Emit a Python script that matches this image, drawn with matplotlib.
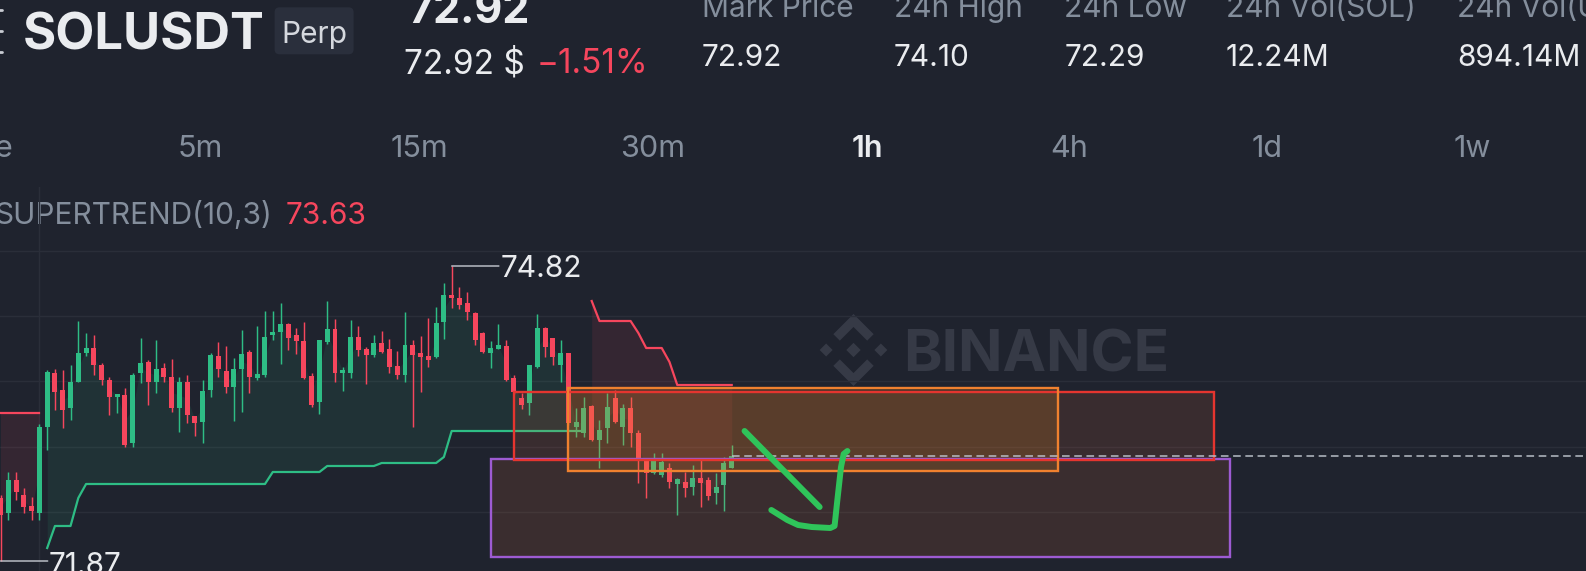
import matplotlib
matplotlib.use("Agg")
import matplotlib.pyplot as plt
from matplotlib.patches import Rectangle, FancyBboxPatch, Polygon

plt.rcParams['font.family'] = ['Inter', 'DejaVu Sans']

# ---------------- data ----------------
symbol = 'SOLUSDT'
contract = 'Perp'
last_price = '72.92'
last_price_usd = '72.92 $'
change_pct = '\u22121.51%'
stats_labels = ['Mark Price', '24h High', '24h Low', '24h Vol(SOL)', '24h Vol(USDT)']
stats_values = ['72.92', '74.10', '72.29', '12.24M', '894.14M']
intervals = ['Time', '5m', '15m', '30m', '1h', '4h', '1d', '1w']
active_interval = '1h'
indicator_name = 'SUPERTREND(10,3)'
indicator_value = '73.63'

opens = [72.50, 72.35, 72.68, 72.53, 72.42, 72.35, 73.21, 73.75, 73.58, 73.40,
         73.66, 73.95, 74.00, 73.83, 73.68, 73.51, 73.53, 73.05, 73.75, 73.86,
         73.66, 73.80, 73.71, 73.40, 73.66, 73.32, 73.26, 73.58, 73.92, 73.77,
         73.61, 73.79, 73.96, 73.70, 73.73, 74.13, 74.16, 74.24, 74.13, 74.07,
         73.72, 73.46, 74.06, 74.19, 73.75, 73.75, 74.11, 73.99, 73.93, 74.05,
         73.99, 73.82, 73.73, 74.03, 73.95, 73.92, 73.91, 74.26, 74.53, 74.50,
         74.45, 74.35, 74.15, 73.95, 73.99, 74.02, 73.70, 73.50, 73.45, 73.81,
         74.20, 74.10, 73.83, 73.95, 73.21, 73.15, 73.42, 73.08, 73.20, 73.50,
         73.21, 73.40, 73.15, 72.88, 72.75, 72.73, 72.80, 72.64, 72.66, 72.61,
         72.70, 72.68, 72.55, 72.63, 72.80]
closes = [72.33, 72.68, 72.56, 72.41, 72.37, 73.21, 73.76, 73.56, 73.38, 73.66,
          73.95, 74.00, 73.83, 73.68, 73.51, 73.54, 73.03, 73.73, 73.85, 73.66,
          73.79, 73.71, 73.40, 73.66, 73.33, 73.25, 73.57, 73.93, 73.79, 73.61,
          73.79, 73.94, 73.71, 73.74, 74.11, 74.16, 74.24, 74.10, 74.07, 73.70,
          73.43, 74.08, 74.19, 73.75, 73.78, 74.11, 73.98, 73.93, 74.05, 73.96,
          73.81, 73.73, 74.03, 73.93, 73.91, 73.88, 74.25, 74.53, 74.50, 74.43,
          74.36, 74.08, 73.96, 74.00, 74.03, 73.68, 73.56, 73.43, 73.83, 74.20,
          74.01, 73.91, 73.95, 73.25, 73.26, 73.40, 73.08, 73.18, 73.41, 73.26,
          73.40, 73.15, 72.88, 72.75, 72.88, 72.86, 72.66, 72.69, 72.60, 72.70,
          72.65, 72.52, 72.61, 72.85, 72.92]
highs = [72.53, 72.76, 72.76, 72.60, 72.51, 73.24, 73.78, 73.79, 73.78, 73.83,
         74.27, 74.15, 74.13, 73.85, 73.71, 73.54, 73.60, 73.75, 74.10, 73.88,
         74.08, 73.85, 73.89, 73.71, 73.73, 73.32, 73.68, 73.95, 74.06, 74.02,
         73.90, 74.18, 73.98, 74.22, 74.37, 74.37, 74.45, 74.25, 74.20, 74.26,
         73.75, 74.08, 74.47, 74.29, 73.81, 74.28, 74.22, 74.01, 74.13, 74.17,
         74.09, 73.97, 74.36, 74.08, 74.12, 74.30, 74.41, 74.65, 74.82, 74.61,
         74.56, 74.36, 74.16, 74.07, 74.24, 74.08, 73.73, 73.55, 73.83, 74.34,
         74.21, 74.10, 74.08, 73.95, 73.40, 73.51, 73.43, 73.28, 73.55, 73.58,
         73.44, 73.51, 73.18, 72.90, 72.95, 72.95, 72.85, 72.70, 72.76, 72.83,
         72.90, 72.71, 72.75, 72.91, 73.03]
lows = [71.87, 72.28, 72.48, 72.35, 72.28, 72.28, 72.98, 73.38, 73.20, 73.28,
        73.66, 73.92, 73.73, 73.63, 73.33, 73.35, 73.01, 73.01, 73.65, 73.43,
        73.55, 73.66, 73.36, 73.16, 73.25, 73.12, 73.05, 73.51, 73.71, 73.55,
        73.27, 73.36, 73.55, 73.68, 73.71, 74.08, 73.84, 73.98, 73.94, 73.69,
        73.41, 73.34, 74.04, 73.66, 73.57, 73.70, 73.92, 73.64, 73.91, 73.95,
        73.75, 73.69, 73.66, 73.21, 73.56, 73.81, 73.90, 74.09, 74.40, 74.39,
        74.28, 74.03, 73.95, 73.80, 73.99, 73.67, 73.54, 73.39, 73.33, 73.80,
        73.91, 73.83, 73.66, 73.23, 73.11, 73.11, 73.07, 72.80, 73.05, 73.25,
        73.03, 73.01, 72.65, 72.50, 72.74, 72.71, 72.60, 72.33, 72.51, 72.53,
        72.41, 72.48, 72.44, 72.37, 72.80]

# supertrend segments (candle index ranges and values)
st_down1_idx = [0, 1, 2, 3, 4, 5]
st_down1 = [73.35, 73.35, 73.35, 73.35, 73.35, 73.35]
st_up_idx = list(range(6, 76))
st_up = [72.00, 72.22, 72.22, 72.22, 72.50,
         72.64, 72.64, 72.64, 72.64, 72.64, 72.64, 72.64, 72.64, 72.64, 72.64,
         72.64, 72.64, 72.64, 72.64, 72.64, 72.64, 72.64, 72.64, 72.64, 72.64,
         72.64, 72.64, 72.64, 72.64,
         72.76, 72.76, 72.76, 72.76, 72.76, 72.76, 72.76,
         72.82, 72.82, 72.82, 72.82, 72.82, 72.82, 72.82,
         72.85, 72.85, 72.85, 72.85, 72.85, 72.85, 72.85, 72.85,
         72.91,
         73.17, 73.17, 73.17, 73.17, 73.17, 73.17, 73.17, 73.17, 73.17,
         73.17, 73.17, 73.17, 73.17, 73.17, 73.17, 73.17, 73.17, 73.17]
st_down2_idx = list(range(76, 95))
st_down2 = [74.47, 74.27, 74.27, 74.27, 74.27, 74.27, 74.15, 74.00, 74.00, 74.00,
            73.86, 73.63, 73.63, 73.63, 73.63, 73.63, 73.63, 73.63, 73.63]

high_label = 74.82
low_label = 71.87

# drawn zones (candle index / price): purple, red, orange
box_left = [63, 66, 73]
box_right = [158, 156, 136]
box_top = [72.89, 73.565, 73.60]
box_bottom = [71.91, 72.885, 72.77]

# hand-drawn green arrow (candle index / price)
stroke_x = [95.65, 105.3]
stroke_y = [73.17, 72.41]
hook_x = [99.09, 101.15, 102.53, 104.28, 106.67, 107.22, 107.58, 108.05, 108.39, 108.87]
hook_y = [72.38, 72.28, 72.23, 72.21, 72.20, 72.22, 72.48, 72.81, 72.94, 72.97]

grid_prices = [74.97, 74.32, 73.67, 73.01, 72.36]
grid_time_idx = 5

# ---------------- style ----------------
W, H = 1586, 571
BG = '#1f232e'
GRID = '#2a2e39'
WHITE = '#eaecef'
GRAY = '#848e9c'
UP = '#2ebd85'
DOWN = '#f6465d'
WM = '#363a46'

fig = plt.figure(figsize=(W / 100, H / 100), dpi=100, facecolor=BG)

ov = fig.add_axes([0, 0, 1, 1], zorder=0)
ov.set_xlim(0, W)
ov.set_ylim(H, 0)
ov.axis('off')

chart_top_px = 187
ax = fig.add_axes([0, 0, 1, (H - chart_top_px) / H], zorder=1)
ax.set_facecolor('none')
px_per_candle = 7.779
x_off = -0.5
ax.set_xlim(x_off / px_per_candle, (W + x_off) / px_per_candle)
ax.set_ylim(77.48 - H / 100, 77.48 - chart_top_px / 100)
for s in ax.spines.values():
    s.set_visible(False)
ax.set_xticks([])
ax.set_yticks([])

# grid
for g in grid_prices:
    ax.axhline(g, color=GRID, lw=1.0, zorder=0)
ax.axvline(grid_time_idx, color=GRID, lw=1.0, zorder=0)

# watermark (figure pixel space)
cx, cy, s = 853.5, 350, 36
top_chev = [(cx, cy - s), (cx + 0.56 * s, cy - 0.44 * s), (cx + 0.38 * s, cy - 0.26 * s),
            (cx, cy - 0.64 * s), (cx - 0.38 * s, cy - 0.26 * s), (cx - 0.56 * s, cy - 0.44 * s)]
bot_chev = [(x, 2 * cy - y) for x, y in top_chev]
ov.add_patch(Polygon(top_chev, closed=True, fc=WM, ec='none'))
ov.add_patch(Polygon(bot_chev, closed=True, fc=WM, ec='none'))
d = 0.2 * s
ov.add_patch(Polygon([(cx, cy - d), (cx + d, cy), (cx, cy + d), (cx - d, cy)], fc=WM, ec='none'))
for sx in (-0.76 * s, 0.76 * s):
    dd = 0.18 * s
    ov.add_patch(Polygon([(cx + sx, cy - dd), (cx + sx + dd, cy), (cx + sx, cy + dd), (cx + sx - dd, cy)],
                         fc=WM, ec='none'))
ov.text(903, 372, 'BINANCE', fontsize=42, fontweight='bold', color=WM, ha='left', va='baseline')

# header: menu icon edge (cut by the left border)
for yy in (10, 31, 52):
    ov.plot([-6, 1.5], [yy, yy], color='#c9ccd3', lw=2.0, solid_capstyle='round')
ov.text(23, 49.3, symbol, fontsize=36.5, fontweight='bold', color=WHITE, ha='left', va='baseline')
ov.add_patch(FancyBboxPatch((274.6, 7.3), 79, 47, boxstyle='round,pad=0,rounding_size=5',
                            fc='#2a2f3c', ec='none'))
ov.text(314, 42.7, contract, fontsize=21.5, color='#d5d8de', ha='center', va='baseline')
ov.text(408.5, 23.3, last_price, fontsize=31, fontweight='bold', color=WHITE, ha='left', va='baseline')
ov.text(404, 73.3, last_price_usd, fontsize=24, color=WHITE, ha='left', va='baseline')
ov.text(537, 73.3, change_pct, fontsize=24, color=DOWN, ha='left', va='baseline')

stat_x = [702, 893.8, 1064.2, 1226, 1457]
for x, lab, val in zip(stat_x, stats_labels, stats_values):
    ov.text(x, 17.3, lab, fontsize=21.5, color=GRAY, ha='left', va='baseline')
    ov.text(x, 66, val, fontsize=21.5, color=WHITE, ha='left', va='baseline')

interval_x = [13.4, 178, 390.6, 620.5, 851.6, 1049.8, 1252, 1454]
for x, lab in zip(interval_x, intervals):
    active = lab == active_interval
    ov.text(x, 157, lab, fontsize=22, color=WHITE if active else GRAY,
            fontweight='semibold' if active else 'normal',
            ha='right' if lab == 'Time' else 'left', va='baseline')

ov.text(272, 224, indicator_name, fontsize=21.5, color=GRAY, ha='right', va='baseline')
ov.text(285.7, 224, indicator_value, fontsize=21.5, color=DOWN, ha='left', va='baseline')

# supertrend fills and lines
mid = [(o + c) / 2 for o, c in zip(opens, closes)]
ax.fill_between(st_down1_idx, st_down1, [mid[i] for i in st_down1_idx],
                color=DOWN, alpha=0.10, lw=0, zorder=1)
ax.fill_between(st_up_idx, st_up, [mid[i] for i in st_up_idx],
                color=UP, alpha=0.10, lw=0, zorder=1)
ax.fill_between(st_down2_idx, st_down2, [mid[i] for i in st_down2_idx],
                color=DOWN, alpha=0.10, lw=0, zorder=1)

# candles
xs = list(range(len(opens)))
cols = [UP if c >= o else DOWN for o, c in zip(opens, closes)]
ax.vlines(xs, lows, highs, colors=cols, lw=1.05, zorder=2)
bottoms = [min(o, c) for o, c in zip(opens, closes)]
heights = [max(abs(c - o), 0.012) for o, c in zip(opens, closes)]
ax.bar(xs, heights, bottom=bottoms, width=0.64, color=cols, lw=0, zorder=3)

ax.plot(st_down1_idx, st_down1, color=DOWN, lw=1.6, zorder=3.5)
ax.plot(st_up_idx, st_up, color=UP, lw=1.6, zorder=3.5)
ax.plot(st_down2_idx, st_down2, color=DOWN, lw=1.6, zorder=3.5)

# zones
box_edge = ['#9d5bd2', '#e5352f', '#f0812f']
box_face = ['#f07838', '#ec6a3c', '#f7931a']
box_alpha = [0.13, 0.13, 0.17]
for l, r, t, b, ec, fc, a in zip(box_left, box_right, box_top, box_bottom, box_edge, box_face, box_alpha):
    ax.add_patch(Rectangle((l, b), r - l, t - b, fc=fc, alpha=a, ec='none', zorder=4))
    ax.add_patch(Rectangle((l, b), r - l, t - b, fc='none', ec=ec, lw=1.7, zorder=4.2))

# last price dashed line
last_idx = len(closes) - 1
ax.plot([last_idx, ax.get_xlim()[1]], [closes[-1], closes[-1]], color='#b7bdc6', lw=1.1,
        linestyle=(0, (5, 3)), zorder=4.5)

# high / low labels with leader lines
hi_idx = highs.index(max(highs))
lo_idx = lows.index(min(lows))
for idx, val, dy, va in ((hi_idx, high_label, 0, 'center_baseline'),
                         (lo_idx, low_label, -9.4, 'baseline')):
    ax.annotate('', xy=(idx, val), xytext=(34, 0), textcoords='offset points', zorder=5,
                annotation_clip=False,
                arrowprops=dict(arrowstyle='-', color='#c8ccd4', lw=1.0, shrinkA=0, shrinkB=0))
    ax.annotate(f'{val:.2f}', xy=(idx, val), xytext=(35, dy), textcoords='offset points',
                fontsize=21.5, color=WHITE, ha='left', va=va, zorder=5, annotation_clip=False)

# hand-drawn arrow
ax.plot(stroke_x, stroke_y, color='#2fc45a', lw=4.3, solid_capstyle='round', zorder=6)
ax.plot(hook_x, hook_y, color='#2fc45a', lw=4.3, solid_capstyle='round',
        solid_joinstyle='round', zorder=6)

fig.savefig('out.png', dpi=100, facecolor=BG)
